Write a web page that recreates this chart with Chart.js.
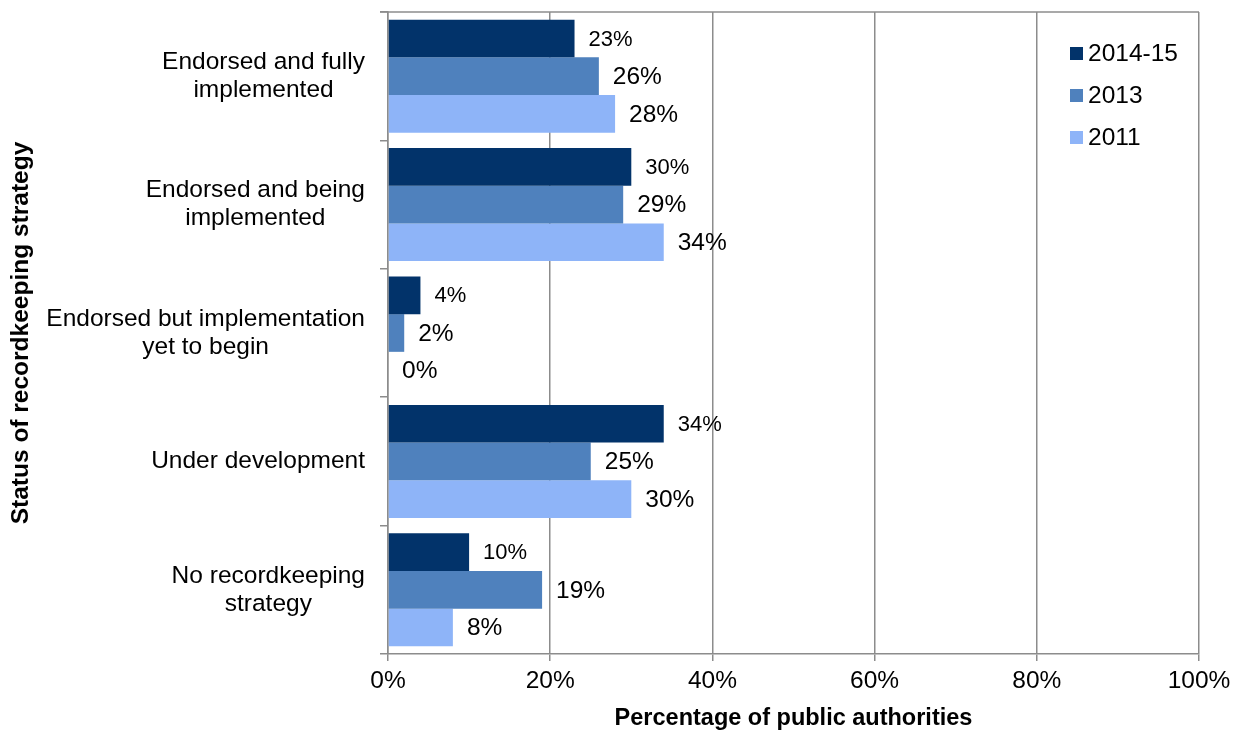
<!DOCTYPE html>
<html>
<head>
<meta charset="utf-8">
<script src="https://cdn.jsdelivr.net/npm/chart.js@4.4.1/dist/chart.umd.min.js"></script>
<style>
  body { margin: 0; background: #fff; }
  #wrap { width: 1241px; height: 731px; }
</style>
</head>
<body>
<div id="wrap"><canvas id="myChart" width="1241" height="731"></canvas></div>
<script>
// Recordkeeping strategy status by survey year
const categories = [
    ['Endorsed and fully', 'implemented'],
    ['Endorsed and being', 'implemented'],
    ['Endorsed but implementation', 'yet to begin'],
    ['Under development'],
    ['No recordkeeping', 'strategy']
];
const years = ['2014-15', '2013', '2011'];
const values2014 = [23, 30, 4, 34, 10];
const values2013 = [26, 29, 2, 25, 19];
const values2011 = [28, 34, 0, 30, 8];
const xTicks = [0, 20, 40, 60, 80, 100];

const colors = ['#02336A', '#4F81BD', '#8EB4F8'];
const fontFamily = '"Liberation Sans", Arial, sans-serif';
const gridColor = '#8C8C8C';

// value labels to the right of each bar
const valueLabels = {
    id: 'valueLabels',
    afterDatasetsDraw(chart) {
        const ctx = chart.ctx;
        ctx.save();
        ctx.fillStyle = '#000';
        ctx.textAlign = 'left';
        ctx.textBaseline = 'middle';
        chart.data.datasets.forEach((ds, i) => {
            ctx.font = (i === 0 ? '22px ' : '24.5px ') + fontFamily;
            chart.getDatasetMeta(i).data.forEach((bar, j) => {
                ctx.fillText(ds.data[j] + '%', bar.x + 14, bar.y + 1);
            });
        });
        ctx.restore();
    }
};

// category names: each block right aligned, its lines centred on each other
const categoryLabels = {
    id: 'categoryLabels',
    afterDraw(chart) {
        const ctx = chart.ctx;
        const yScale = chart.scales.y;
        const right = 365;
        const lineH = 28;
        ctx.save();
        ctx.font = '24.5px ' + fontFamily;
        ctx.fillStyle = '#000';
        ctx.textAlign = 'center';
        ctx.textBaseline = 'middle';
        categories.forEach((lines, i) => {
            const w = Math.max(...lines.map(l => ctx.measureText(l).width));
            const cx = right - w / 2;
            const cy = yScale.getPixelForValue(i);
            lines.forEach((l, k) => {
                ctx.fillText(l, cx, cy + (k - (lines.length - 1) / 2) * lineH);
            });
        });
        ctx.restore();
    }
};

// top border of the plot area and the legend box
const extras = {
    id: 'extras',
    afterDraw(chart) {
        const ctx = chart.ctx;
        const area = chart.chartArea;
        ctx.save();
        ctx.strokeStyle = gridColor;
        ctx.lineWidth = 1.5;
        ctx.beginPath();
        ctx.moveTo(area.left - 8, area.top);
        ctx.lineTo(area.right, area.top);
        ctx.stroke();

        ctx.font = '24.5px ' + fontFamily;
        ctx.textAlign = 'left';
        ctx.textBaseline = 'middle';
        const rows = [53, 95, 137];
        years.forEach((y, i) => {
            ctx.fillStyle = colors[i];
            ctx.fillRect(1070, rows[i] - 6, 13, 13);
            ctx.fillStyle = '#000';
            ctx.fillText(y, 1088, rows[i] + 1);
        });
        ctx.restore();
    }
};

const ctx = document.getElementById('myChart').getContext('2d');
const myChart = new Chart(ctx, {
    type: 'bar',
    data: {
        labels: categories,
        datasets: [
            { label: years[0], data: values2014, backgroundColor: colors[0] },
            { label: years[1], data: values2013, backgroundColor: colors[1] },
            { label: years[2], data: values2011, backgroundColor: colors[2] }
        ]
    },
    options: {
        indexAxis: 'y',
        responsive: false,
        animation: false,
        layout: { padding: { top: 12, right: 42, left: 0, bottom: 0 } },
        datasets: { bar: { categoryPercentage: 0.88, barPercentage: 1.0, borderWidth: 0 } },
        scales: {
            x: {
                min: 0,
                max: 100,
                afterBuildTicks(scale) {
                    scale.ticks = xTicks.map(v => ({ value: v }));
                },
                afterFit(scale) { scale.height = 77; },
                grid: { color: gridColor, lineWidth: 1.5, tickLength: 7 },
                border: { color: gridColor, width: 1.5 },
                ticks: {
                    color: '#000',
                    padding: 6,
                    font: { family: fontFamily, size: 24.5 },
                    callback: v => v + '%'
                },
                title: {
                    display: true,
                    text: 'Percentage of public authorities',
                    color: '#000',
                    padding: { top: 0, bottom: -2 },
                    font: { family: fontFamily, size: 23.5, weight: 'bold' }
                }
            },
            y: {
                afterFit(scale) {
                    scale.width = 388;
                    scale.paddingTop = 0;
                    scale.paddingBottom = 0;
                },
                grid: {
                    offset: true,
                    drawOnChartArea: false,
                    color: gridColor,
                    lineWidth: 1.5,
                    tickLength: 8
                },
                border: { color: gridColor, width: 1.5 },
                ticks: {
                    color: 'rgba(0,0,0,0)',
                    font: { family: fontFamily, size: 12 }
                },
                title: {
                    display: true,
                    text: 'Status of recordkeeping strategy',
                    color: '#000',
                    padding: { top: 7, bottom: 0 },
                    font: { family: fontFamily, size: 24.5, weight: 'bold' }
                }
            }
        },
        plugins: {
            legend: { display: false },
            tooltip: { enabled: false }
        }
    },
    plugins: [valueLabels, categoryLabels, extras]
});
</script>
</body>
</html>
